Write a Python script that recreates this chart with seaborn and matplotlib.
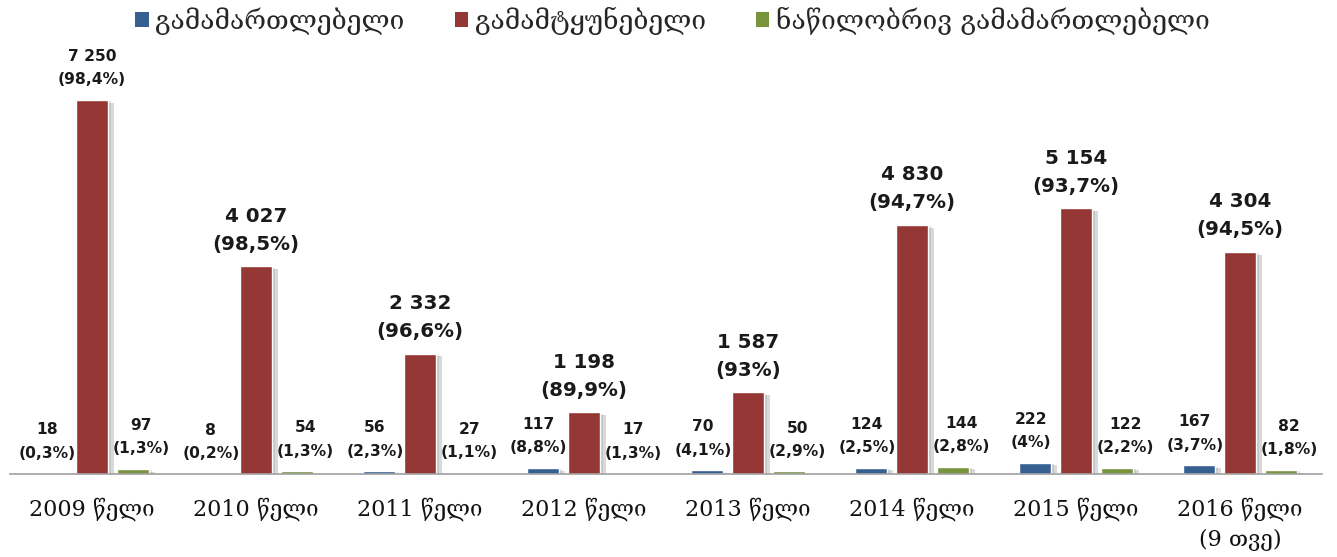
import pandas as pd
import numpy as np
import matplotlib
matplotlib.use('Agg')
import matplotlib.pyplot as plt
import matplotlib.patheffects as pe
from matplotlib.patches import Patch
import seaborn as sns

# ==================== 数据 ====================
years = ['2009 წელი', '2010 წელი', '2011 წელი', '2012 წელი',
         '2013 წელი', '2014 წელი', '2015 წელი', '2016 წელი\n(9 თვე)']
series_names = ['გამამართლებელი', 'გამამტყუნებელი', 'ნაწილობრივ გამამართლებელი']

acquittal = [18, 8, 56, 117, 70, 124, 222, 167]
conviction = [7250, 4027, 2332, 1198, 1587, 4830, 5154, 4304]
partial = [97, 54, 27, 17, 50, 144, 122, 82]

acquittal_pct = ['0,3%', '0,2%', '2,3%', '8,8%', '4,1%', '2,5%', '4%', '3,7%']
conviction_pct = ['98,4%', '98,5%', '96,6%', '89,9%', '93%', '94,7%', '93,7%', '94,5%']
partial_pct = ['1,3%', '1,3%', '1,1%', '1,3%', '2,9%', '2,8%', '2,2%', '1,8%']

colors = ['#366092', '#953735', '#77933C']

# 长表
df = pd.DataFrame({
    'year': years * 3,
    'series': [series_names[0]] * 8 + [series_names[1]] * 8 + [series_names[2]] * 8,
    'value': acquittal + conviction + partial,
})

sns.set_style('white')
plt.rcParams['font.family'] = ['DejaVu Sans']
serif = ['DejaVu Serif', 'DejaVu Sans']

fig = plt.figure(figsize=(13.37, 5.57), dpi=100)
ax = fig.add_axes([10 / 1337, 1 - 474 / 557, 1312 / 1337, (474 - 45) / 557])

sns.barplot(data=df, x='year', y='value', hue='series', order=years,
            hue_order=series_names, palette=colors, width=0.75, gap=0.22,
            legend=False, ax=ax, saturation=1)

# 柱子阴影
for p in ax.patches:
    p.set_path_effects([pe.SimplePatchShadow(offset=(4, -2), alpha=0.22, shadow_rgbFace='#555555'),
                        pe.SimplePatchShadow(offset=(2, -1), alpha=0.15, shadow_rgbFace='#555555'),
                        pe.Normal()])

ax.set_xlim(-0.5, 7.5)
ax.set_ylim(0, 8316)
ax.set_yticks([])
ax.set_xlabel('')
ax.set_ylabel('')
for s in ['top', 'left', 'right']:
    ax.spines[s].set_visible(False)
ax.spines['bottom'].set_color('#a0a0a0')
ax.spines['bottom'].set_linewidth(1.2)
ax.tick_params(axis='x', length=0, pad=17)
for lbl in ax.get_xticklabels():
    lbl.set_family(serif)
    lbl.set_fontsize(16)
    lbl.set_linespacing(1.45)
    lbl.set_verticalalignment('top')
    lbl.set_color('#111111')

# 数据标签
all_vals = [acquittal, conviction, partial]
all_pcts = [acquittal_pct, conviction_pct, partial_pct]
x_shift = [-3, 0, 6]
for si, container in enumerate(ax.containers):
    for i, bar in enumerate(container):
        v = all_vals[si][i]
        txt = f'{v:,}'.replace(',', ' ') + '\n(' + all_pcts[si][i] + ')'
        big = si == 1 and i > 0
        fs = 14.3 if big else 11.2
        xc = bar.get_x() + bar.get_width() / 2
        ax.annotate(txt, (xc, bar.get_height()), xytext=(x_shift[si], 9),
                    textcoords='offset points', ha='center', va='bottom',
                    fontsize=fs, fontweight='bold', color='#1a1a1a',
                    linespacing=1.6 if big else 1.7, multialignment='center')

handles = [Patch(facecolor=c, edgecolor='none') for c in colors]
fig.legend(handles, series_names, loc='center', bbox_to_anchor=(0.503, 0.963), ncol=3,
           frameon=False, prop={'family': serif, 'size': 19}, handlelength=0.5,
           handleheight=0.5, handletextpad=0.25, columnspacing=1.9)

plt.savefig('out.png', dpi=100)
plt.close()
